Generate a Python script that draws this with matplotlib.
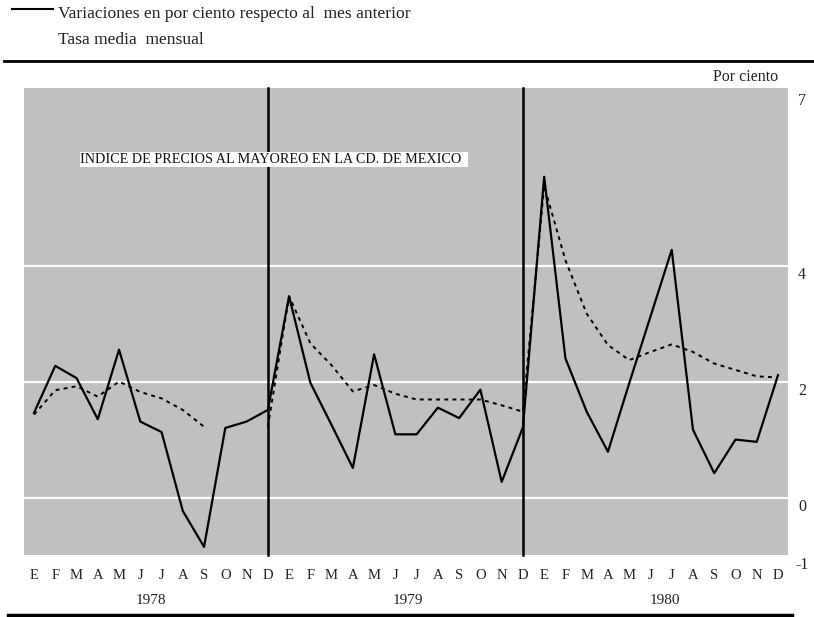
import numpy as np
import matplotlib
matplotlib.use("Agg")
import matplotlib.pyplot as plt
from matplotlib.transforms import blended_transform_factory, offset_copy
from matplotlib.patches import Rectangle
from matplotlib.lines import Line2D

plt.rcParams['font.family'] = ['Liberation Serif', 'DejaVu Serif']

# ---- data ----
months = ["E", "F", "M", "A", "M", "J", "J", "A", "S", "O", "N", "D"]
years = ["1978", "1979", "1980"]
month_labels = months * 3

variaciones = [
    1.47, 2.28, 2.07, 1.36, 2.56, 1.32, 1.14, -0.22, -0.84, 1.21, 1.32, 1.52,   # 1978
    3.48, 1.99, 1.26, 0.52, 2.48, 1.10, 1.10, 1.56, 1.38, 1.87, 0.28, 1.22,     # 1979
    5.54, 2.41, 1.49, 0.80, 1.98, 3.13, 4.28, 1.18, 0.43, 1.01, 0.97, 2.12,     # 1980
]
tasa_media = [
    1.44, 1.86, 1.93, 1.75, 2.01, 1.83, 1.72, 1.52, 1.23, np.nan, np.nan, 1.23,  # 1978
    3.48, 2.67, 2.29, 1.84, 1.95, 1.80, 1.70, 1.70, 1.70, 1.70, 1.60, 1.49,      # 1979
    5.38, 4.10, 3.18, 2.64, 2.38, 2.52, 2.65, 2.52, 2.32, 2.21, 2.10, 2.08,      # 1980
]
grid_values = [0, 2, 4]
ytick_values = [7, 4, 2, 0, -1]
ytick_labels = ["7", "4", "2", "0", "-1"]
year_breaks = [11, 23]

title = "INDICE DE PRECIOS AL MAYOREO EN LA CD. DE MEXICO"
legend1 = "Variaciones en por ciento respecto al  mes anterior"
legend2 = "Tasa media  mensual"

W, H = 814, 617
fig = plt.figure(figsize=(W / 100, H / 100), dpi=100)

def fx(px):
    return px / W

def fy(py):
    return 1 - py / H

ax = fig.add_axes([fx(24), fy(555), fx(788) - fx(24), fy(88) - fy(555)])
ax.set_facecolor("#c0c0c0")
for s in ax.spines.values():
    s.set_visible(False)

x = np.arange(len(variaciones))
ax.set_xlim(-0.47, 35.47)
ax.set_ylim(-0.98, 7.07)

for g in grid_values:
    ax.axhline(g, color="white", lw=1.6, zorder=1)

for b in year_breaks:
    ax.plot([b, b], [-0.98, 7.07], color="black", lw=1.8, zorder=4, clip_on=False)

ax.plot(x, tasa_media, color="black", lw=1.4, dashes=(2.0, 2.2), zorder=2)
ax.plot(x, variaciones, color="black", lw=1.6, zorder=3)

ax.set_xticks(x)
ax.set_xticklabels(month_labels, fontsize=10.5, color="#222222")
ax.tick_params(axis="x", length=0, pad=10)
ax.set_yticks([])

# right-side y labels (placed slightly below their values)
trans = blended_transform_factory(fig.transFigure, ax.transData)
trans = offset_copy(trans, fig=fig, x=0, y=-9, units="dots")
for v, lab in zip(ytick_values, ytick_labels):
    ax.text(fx(802), v, lab, transform=trans, ha="center", va="center",
            fontsize=11.5, color="#222222", clip_on=False)

# year labels
ytrans = blended_transform_factory(ax.transData, fig.transFigure)
for i, yr in enumerate(years):
    ax.text(5.5 + 12 * i + 0.1 * i, fy(601), yr, transform=ytrans, ha="center",
            va="center", fontsize=11, color="#222222", clip_on=False)

# title box
fig.patches.append(Rectangle((fx(80), fy(167)), fx(468) - fx(80), fy(152) - fy(167),
                             transform=fig.transFigure, facecolor="white",
                             edgecolor="none", zorder=5))
fig.text(fx(80), fy(159.5), title, ha="left", va="center", fontsize=10.2,
         color="#111111", zorder=6)

# "Por ciento"
fig.text(fx(778), fy(77), "Por ciento", ha="right", va="center", fontsize=11.5,
         color="#222222")

# legend
fig.lines.append(Line2D([fx(12), fx(53)], [fy(9), fy(9)], transform=fig.transFigure,
                        color="black", lw=1.5))
fig.text(fx(58), fy(14), legend1, ha="left", va="center", fontsize=12.6, color="#222222")
fig.text(fx(58), fy(40), legend2, ha="left", va="center", fontsize=12.6, color="#222222")

# horizontal rules
fig.lines.append(Line2D([fx(4), fx(814)], [fy(61), fy(61)], transform=fig.transFigure,
                        color="black", lw=2))
fig.lines.append(Line2D([fx(8), fx(792)], [fy(615), fy(615)], transform=fig.transFigure,
                        color="black", lw=2.5))

fig.savefig("out.png", dpi=100)
